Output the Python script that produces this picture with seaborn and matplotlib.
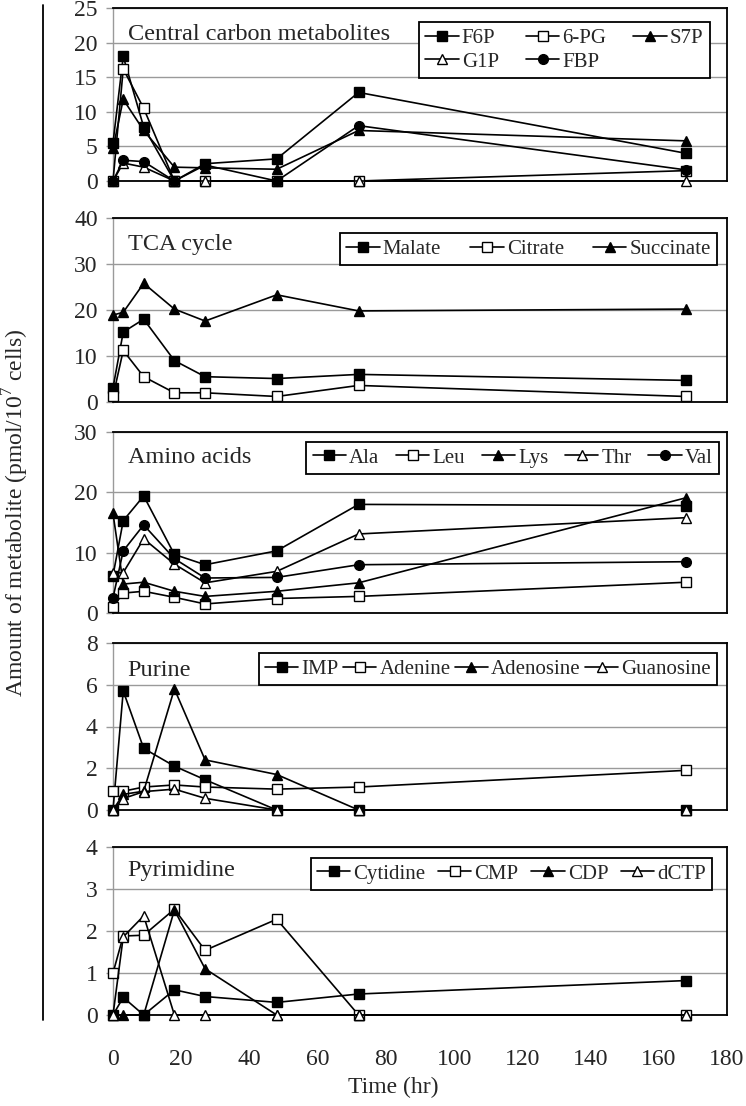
import matplotlib
matplotlib.use("Agg")
import matplotlib.pyplot as plt
import seaborn as sns
from matplotlib.lines import Line2D

sns.set_style("white")
plt.rcParams["font.family"] = ["Liberation Serif", "DejaVu Serif"]
plt.rcParams["mathtext.fontset"] = "custom"
plt.rcParams["mathtext.rm"] = "Liberation Serif"

# sampling times (hr)
times = [0, 3, 9, 18, 27, 48, 72, 168]

# Central carbon metabolites
f6p = [5.5, 18.0, 7.8, 0, 2.5, 3.2, 12.8, 4.0]
pg6 = [0, 16.2, 10.5, 0, 0, 0, 0, 1.5]
s7p = [4.7, 11.8, 7.3, 2.0, 1.9, 1.7, 7.3, 5.8]
g1p = [0, 2.6, 2.0, 0, 0, 0, 0, 0]
fbp = [0, 3.0, 2.8, 0, 2.3, 0, 8.0, 1.6]

# TCA cycle
malate = [3.1, 15.2, 18.0, 9.0, 5.5, 5.1, 6.0, 4.7]
citrate = [1.2, 11.2, 5.5, 2.0, 2.0, 1.2, 3.6, 1.2]
succinate = [18.9, 19.5, 25.8, 20.2, 17.6, 23.3, 19.8, 20.2]

# Amino acids
ala = [6.2, 15.3, 19.4, 9.7, 8.0, 10.3, 18.0, 17.8]
leu = [1.0, 3.3, 3.6, 2.6, 1.5, 2.4, 2.75, 5.1]
lys = [16.5, 4.8, 5.1, 3.6, 2.75, 3.6, 5.0, 19.1]
thr = [6.6, 6.7, 12.3, 8.1, 5.0, 6.9, 13.1, 15.8]
val = [2.5, 10.3, 14.6, 9.0, 5.8, 5.9, 8.0, 8.5]

# Purine
imp = [0, 5.7, 2.95, 2.1, 1.45, 0, 0, 0]
adenine = [0.93, 0.9, 1.1, 1.2, 1.1, 1.0, 1.1, 1.9]
adenosine = [0, 0.75, 0.9, 5.8, 2.4, 1.7, 0, 0]
guanosine = [0, 0.55, 0.88, 1.0, 0.56, 0, 0, 0]

# Pyrimidine
cytidine = [0, 0.42, 0, 0.6, 0.44, 0.3, 0.5, 0.82]
cmp_ = [1.0, 1.88, 1.9, 2.52, 1.54, 2.28, 0, 0]
cdp = [0, 0, 0, 2.5, 1.1, 0, 0, 0]
dctp = [0, 1.86, 2.36, 0, 0, 0, 0, 0]

# marker styles: (marker, filled)
STY = {"fs": ("s", True), "os": ("s", False), "ft": ("^", True),
       "ot": ("^", False), "fc": ("o", True)}

panels = [
    dict(title="Central carbon metabolites", ylim=25, step=5,
         series=[("F6P", f6p, "fs"), ("6-PG", pg6, "os"), ("S7P", s7p, "ft"),
                 ("G1P", g1p, "ot"), ("FBP", fbp, "fc")],
         ncol=3, order=[0, 3, 1, 4, 2], anchor=(0.972, 0.919), colsp=1.3,
         px=(8, 181), ty=0.815),
    dict(title="TCA cycle", ylim=40, step=10,
         series=[("Malate", malate, "fs"), ("Citrate", citrate, "os"),
                 ("Succinate", succinate, "ft")],
         ncol=3, order=None, anchor=(0.984, 0.918), colsp=1.4,
         px=(218, 402), ty=0.826),
    dict(title="Amino acids", ylim=30, step=10,
         series=[("Ala", ala, "fs"), ("Leu", leu, "os"), ("Lys", lys, "ft"),
                 ("Thr", thr, "ot"), ("Val", val, "fc")],
         ncol=5, order=None, anchor=(0.987, 0.945), colsp=0.8,
         px=(432, 613), ty=0.827),
    dict(title="Purine", ylim=8, step=2,
         series=[("IMP", imp, "fs"), ("Adenine", adenine, "os"),
                 ("Adenosine", adenosine, "ft"), ("Guanosine", guanosine, "ot")],
         ncol=4, order=None, anchor=(0.984, 0.94), colsp=0.2,
         px=(643, 810), ty=0.802),
    dict(title="Pyrimidine", ylim=4, step=1,
         series=[("Cytidine", cytidine, "fs"), ("CMP", cmp_, "os"),
                 ("CDP", cdp, "ft"), ("dCTP", dctp, "ot")],
         ncol=4, order=None, anchor=(0.976, 0.935), colsp=0.6,
         px=(847, 1015), ty=0.827),
]

W, H = 746, 1106
fig = plt.figure(figsize=(W / 100, H / 100), dpi=100)
left, right = 113, 727

for i, p in enumerate(panels):
    top, bot = p["px"]
    ax = fig.add_axes([left / W, 1 - bot / H, (right - left) / W, (bot - top) / H])
    for name, vals, key in p["series"]:
        mk, filled = STY[key]
        sns.lineplot(x=times, y=vals, ax=ax, color="black", linewidth=1.2,
                     marker=mk, markersize=7 if mk != "^" else 7.5,
                     markerfacecolor="black" if filled else "white",
                     markeredgecolor="black", markeredgewidth=1.0,
                     label=name, clip_on=False, zorder=3)
    ax.set_xlim(0, 180)
    ax.set_ylim(0, p["ylim"])
    ax.set_yticks(range(0, p["ylim"] + 1, p["step"]))
    ax.set_xticks(range(0, 181, 20))
    ax.yaxis.grid(True, color="#9a9a9a", linewidth=1.0)
    ax.xaxis.grid(False)
    ax.set_axisbelow(True)
    for s in ["top", "right", "bottom"]:
        ax.spines[s].set_color("black")
        ax.spines[s].set_linewidth(1.3)
    ax.spines["left"].set_color("#9a9a9a")
    ax.spines["left"].set_linewidth(1.0)
    ax.tick_params(axis="y", which="both", left=True, length=5, width=1,
                   color="#9a9a9a", pad=6, labelsize=17)
    if i < len(panels) - 1:
        ax.tick_params(axis="x", bottom=False, labelbottom=False)
    else:
        ax.tick_params(axis="x", bottom=False, labelbottom=True, pad=21,
                       labelsize=17)
    ax.set_xlabel("")
    ax.set_ylabel("")
    ax.text(0.024, p["ty"], p["title"], transform=ax.transAxes,
            fontsize=17.5, va="baseline", ha="left")

    handles, labels = ax.get_legend_handles_labels()
    if p["order"] is not None:
        handles = [handles[k] for k in p["order"]]
        labels = [labels[k] for k in p["order"]]
    leg = ax.legend(handles, labels, ncol=p["ncol"], loc="upper right",
                    bbox_to_anchor=p["anchor"], fontsize=15, frameon=True,
                    fancybox=False, edgecolor="black", framealpha=1,
                    handlelength=1.6, handletextpad=0.15,
                    columnspacing=p["colsp"], borderpad=0.3,
                    labelspacing=0.2, borderaxespad=0)
    leg.get_frame().set_linewidth(1.3)
    leg.set_zorder(5)

fig.text(393 / W, 1 - 1087 / H, "Time (hr)", ha="center", va="center",
         fontsize=17)
fig.text(16 / W, 0.536, "Amount of metabolite (pmol/10$^{7}$ cells)",
         rotation=90, ha="center", va="center", fontsize=17)
fig.add_artist(Line2D([43 / W, 43 / W], [1 - 5 / H, 1 - 1020 / H],
                      color="black", linewidth=1.3))

fig.savefig("out.png", dpi=100)
